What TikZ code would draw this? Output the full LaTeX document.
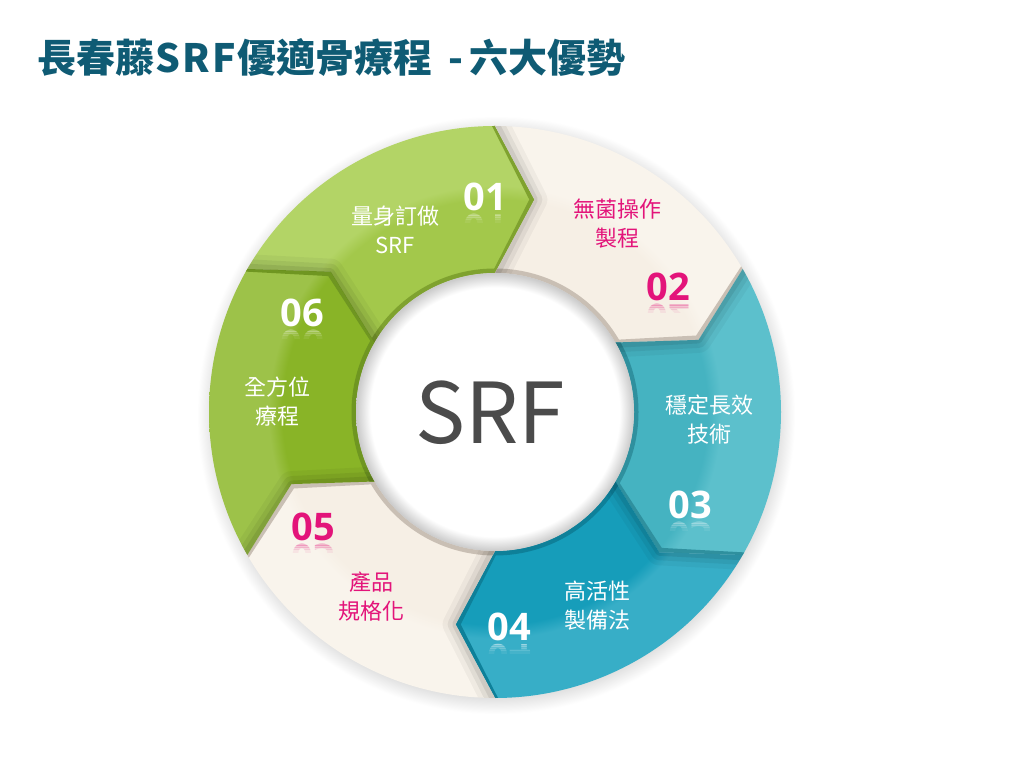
\documentclass[tikz,border=0pt]{standalone}
\usepackage{fontspec}
\setmainfont{Open Sans}
\newfontfamily\cjk{Noto Sans CJK TC}
\usetikzlibrary{calc}
\definecolor{gAi}{HTML}{A3C84B}
\definecolor{gAo}{HTML}{B3D466}
\definecolor{gAd}{HTML}{7FA22F}
\definecolor{gBi}{HTML}{89B427}
\definecolor{gBo}{HTML}{9DC249}
\definecolor{gBd}{HTML}{6F9621}
\definecolor{bei}{HTML}{F6EFE5}
\definecolor{beo}{HTML}{F9F4EC}
\definecolor{bed}{HTML}{C9BFB4}
\definecolor{tAi}{HTML}{45B3C1}
\definecolor{tAo}{HTML}{5CC0CC}
\definecolor{tAd}{HTML}{2F909E}
\definecolor{tBi}{HTML}{169DBA}
\definecolor{tBo}{HTML}{37AEC7}
\definecolor{tBd}{HTML}{0E8099}
\definecolor{pinkc}{HTML}{E3147A}
\definecolor{titlec}{HTML}{0F5B74}
\definecolor{srfc}{HTML}{4B4B4B}
\definecolor{rimg}{HTML}{CACACA}
\pgfdeclareradialshading{shgA}{\pgfpointorigin}{color(0bp)=(gAi); color(18.6bp)=(gAi); color(19.8bp)=(gAo); color(50bp)=(gAo)}
\pgfdeclareradialshading{shgB}{\pgfpointorigin}{color(0bp)=(gBi); color(18.6bp)=(gBi); color(19.8bp)=(gBo); color(50bp)=(gBo)}
\pgfdeclareradialshading{shbe}{\pgfpointorigin}{color(0bp)=(bei); color(18.6bp)=(bei); color(19.8bp)=(beo); color(50bp)=(beo)}
\pgfdeclareradialshading{shtA}{\pgfpointorigin}{color(0bp)=(tAi); color(18.6bp)=(tAi); color(19.8bp)=(tAo); color(50bp)=(tAo)}
\pgfdeclareradialshading{shtB}{\pgfpointorigin}{color(0bp)=(tBi); color(18.6bp)=(tBi); color(19.8bp)=(tBo); color(50bp)=(tBo)}
\pgfdeclareradialshading{outsh}{\pgfpointorigin}{color(0bp)=(black!20); color(23.6bp)=(black!12); color(25bp)=(white); color(50bp)=(white)}
\pgfdeclareradialshading{innersh}{\pgfpointorigin}{color(0bp)=(white); color(22.4bp)=(white); color(25bp)=(rimg); color(50bp)=(rimg)}
\newcommand{\segp}[2]{($(c)+(#1:286)$) arc[start angle=#1, end angle=#2, radius=286] -- ($(c)+({#2-10.5}:216)$) -- ($(c)+(#2:139)$) arc[start angle=#2, end angle=#1, radius=139] -- ($(c)+({#1-10.5}:216)$) -- cycle}
\newcommand{\tipp}[1]{($(c)+(#1:290)$) -- ($(c)+({#1-10.5}:216)$) -- ($(c)+(#1:135)$)}
\tikzset{
  lbl/.style={font=\cjk\fontsize{22}{29}\selectfont, align=center, inner sep=0pt},
  wlbl/.style={lbl, text=white},
  plbl/.style={lbl, text=pinkc},
  num/.style={font=\bfseries\fontsize{38}{38}\selectfont, inner sep=0pt},
  refl/.style={num, yscale=-1, opacity=#1},
}
\newcommand{\numl}[5]{%
  \node[num,text=#4] (#1) at (#2,#3) {#5};
  \begin{scope}\clip (#2-30,#3-15) rectangle (#2+30,#3-17);
    \node[refl=0.34,text=#4] at (#2,#3-31) {#5};\end{scope}
  \begin{scope}\clip (#2-30,#3-17) rectangle (#2+30,#3-19);
    \node[refl=0.26,text=#4] at (#2,#3-31) {#5};\end{scope}
  \begin{scope}\clip (#2-30,#3-19) rectangle (#2+30,#3-21);
    \node[refl=0.19,text=#4] at (#2,#3-31) {#5};\end{scope}
  \begin{scope}\clip (#2-30,#3-21) rectangle (#2+30,#3-23);
    \node[refl=0.13,text=#4] at (#2,#3-31) {#5};\end{scope}
  \begin{scope}\clip (#2-30,#3-23) rectangle (#2+30,#3-26);
    \node[refl=0.07,text=#4] at (#2,#3-31) {#5};\end{scope}}
\begin{document}
\begin{tikzpicture}[x=1pt,y=1pt]
\useasboundingbox (0,0) rectangle (1024,768);
\fill[white] (0,0) rectangle (1024,768);
\coordinate (c) at (495,356);
% outer soft shadow
\shade[shading=outsh] ($(c)+(1,-3)$) circle[radius=299];
% ring segments with inner rim and tip rim
\foreach \a/\b/\s/\rc in {150/90/shgA/gAd, 90/30/shbe/bed, 30/-30/shtA/tAd, -30/-90/shtB/tBd, -90/-150/shbe/bed, -150/-210/shgB/gBd}{
  \begin{scope}
    \clip \segp{\a}{\b};
    \shade[shading=\s] (c) circle[radius=286];
    \draw[line width=9pt, \rc] (c) circle[radius=139];
    \draw[line width=9pt, \rc, line join=round] \tipp{\b};
  \end{scope}
}
% soft shadow of each chevron tip on the following segment
\foreach \t/\n in {90/30, 30/-30, -30/-90, -90/-150, -150/-210, 150/90}{
  \begin{scope}
    \clip \segp{\t}{\n};
    \draw[line width=26pt, black, opacity=0.04, line cap=round, line join=round] \tipp{\t};
    \draw[line width=16pt, black, opacity=0.06, line cap=round, line join=round] \tipp{\t};
    \draw[line width=7pt, black, opacity=0.08, line cap=round, line join=round] \tipp{\t};
  \end{scope}
}
% inner white disc with soft edge shadow
\shade[shading=innersh] (c) circle[radius=139];
% centre text
\node[font=\cjk\fontsize{84}{84}\selectfont, text=srfc, inner sep=0pt] (srf) at (490,355) {SRF};
% segment labels
\node[wlbl] (t1) at (395,538) {量身訂做\\SRF};
\node[plbl] (t2) at (617,544) {無菌操作\\製程};
\node[wlbl] (t3) at (709,348) {穩定長效\\技術};
\node[wlbl] (t4) at (597,162) {高活性\\製備法};
\node[plbl] (t5) at (371,171) {產品\\規格化};
\node[wlbl] (t6) at (277,366) {全方位\\療程};
% numbers with reflections
\numl{n1}{485}{571}{white}{01}
\numl{n2}{668}{481}{pinkc}{02}
\numl{n3}{690}{263}{white}{03}
\numl{n4}{509}{141}{white}{04}
\numl{n5}{313}{241}{pinkc}{05}
\numl{n6}{302}{455}{white}{06}
% title
\node[anchor=west, font=\cjk\bfseries\fontsize{39}{39}\selectfont, text=titlec, inner sep=0pt] (title) at (37,711) {長春藤\kern1pt S\kern2.5pt R\kern2.5pt F\kern1pt 優適骨療程\hspace{16pt}-\kern6pt 六大優勢};
\end{tikzpicture}
\end{document}
